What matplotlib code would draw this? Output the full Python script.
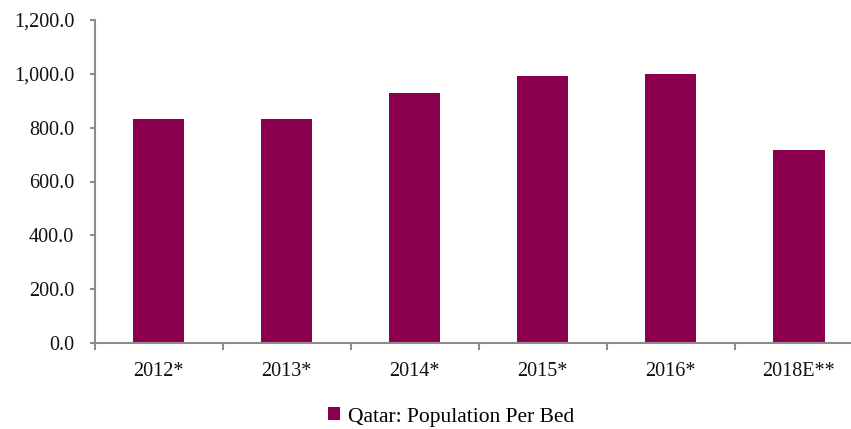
import matplotlib.pyplot as plt
from matplotlib.ticker import FuncFormatter, FixedLocator

# DATA
categories = ["2012*", "2013*", "2014*", "2015*", "2016*", "2018E**"]
population_per_bed = [832, 832, 929, 992, 998, 717]
series_name = "Qatar: Population Per Bed"

BAR_COLOR = "#8A004F"
AXIS_COLOR = "#8C8C8C"
FONT = ["Liberation Serif"]
FS = 14.5

fig = plt.figure(figsize=(8.51, 4.29), dpi=100)
W, H = 851, 429
ax = fig.add_axes([94.5 / W, (H - 343) / H, (863 - 94.5) / W, 323 / H])

x = list(range(len(categories)))
ax.bar(x, population_per_bed, width=0.4, color=BAR_COLOR, label=series_name)

ax.set_xlim(-0.5, len(categories) - 0.5)
ax.set_ylim(0, 1200)
ax.set_yticks(range(0, 1201, 200))
ax.yaxis.set_major_formatter(FuncFormatter(lambda v, p: f"{v:,.1f}"))

# category labels centred, ticks on the boundaries
ax.set_xticks(x)
ax.set_xticklabels(categories)
ax.tick_params(axis="x", which="major", length=0, pad=14)
ax.xaxis.set_minor_locator(FixedLocator([i - 0.5 for i in range(len(categories) + 1)]))
ax.tick_params(axis="x", which="minor", length=5, color=AXIS_COLOR, width=1.5)
ax.tick_params(axis="y", length=3.6, color=AXIS_COLOR, width=1.5, pad=11)

for lab in ax.get_xticklabels() + ax.get_yticklabels():
    lab.set_family(FONT)
    lab.set_fontsize(FS)
    lab.set_color("#111111")

for side in ["top", "right"]:
    ax.spines[side].set_visible(False)
for side in ["left", "bottom"]:
    ax.spines[side].set_color(AXIS_COLOR)
    ax.spines[side].set_linewidth(1.5)

leg = fig.legend(loc="center", bbox_to_anchor=(451 / W, 1 - 417 / H), frameon=False,
                 handlelength=0.55, handleheight=0.55, handletextpad=0.35,
                 prop={"family": FONT, "size": 15.5})

fig.savefig("out.png", dpi=100)
